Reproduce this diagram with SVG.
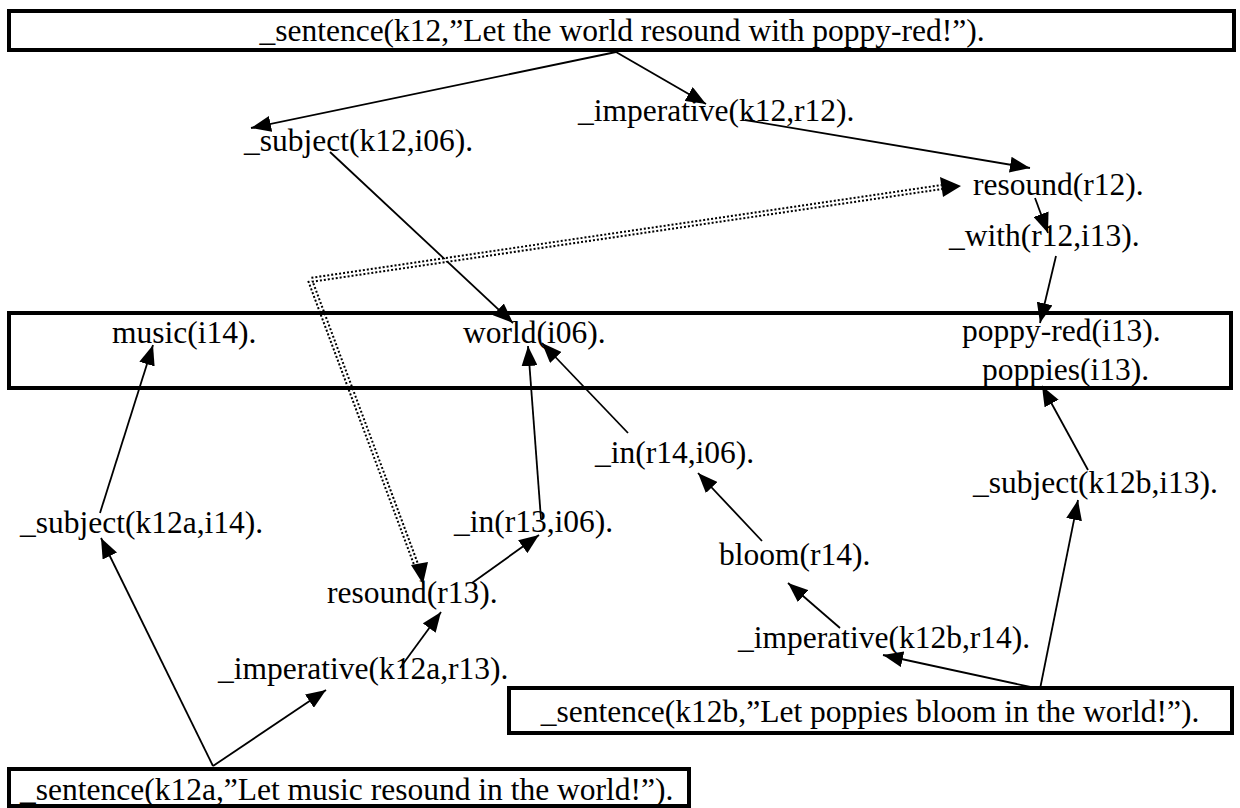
<svg xmlns="http://www.w3.org/2000/svg" width="1240" height="808" viewBox="0 0 1240 808">
  <style>
    text { font-family: "Liberation Serif", "Times New Roman", serif; font-size: 31.5px; fill: #000; }
    .mid { text-anchor: middle; }
    .box { fill: none; stroke: #000; stroke-width: 4; }
    .edge { fill: none; stroke: #000; stroke-width: 1.8; marker-end: url(#arrow); }
    .dbl { fill: none; stroke: #000; stroke-width: 6; stroke-dasharray: 2 2; }
    .dbl-gap { fill: none; stroke: #fff; stroke-width: 2; }
  </style>
  <defs>
    <marker id="arrow" markerUnits="userSpaceOnUse" markerWidth="20" markerHeight="16" refX="20" refY="8" orient="auto">
      <path d="M0,0 L20,8 L0,16 z" fill="#000"/>
    </marker>
  </defs>
  <rect width="1240" height="808" fill="#fff"/>

  <!-- connectors -->
  <g id="connectors">
    <path class="edge" d="M616,52 L706,104"/>
    <path class="edge" d="M616,52 L251,128"/>
    <path class="edge" d="M745,120 L1030,168"/>
    <path class="edge" d="M1035,198 L1048,233"/>
    <path class="edge" d="M1056,256 L1040,323"/>
    <path class="edge" d="M330,152 L513,323"/>
    <path class="edge" d="M541,519 L528,346"/>
    <path class="edge" d="M628,433 L542,343"/>
    <path class="edge" d="M100,513 L153,345"/>
    <path class="edge" d="M762,541 L698,473"/>
    <path class="edge" d="M840,628 L788,583"/>
    <path class="edge" d="M1040,689 L883,655"/>
    <path class="edge" d="M1040,689 L1078,500"/>
    <path class="edge" d="M1088,470 L1042,386"/>
    <path class="edge" d="M213,766 L101,538"/>
    <path class="edge" d="M213,766 L326,690"/>
    <path class="edge" d="M400,668 L441,612"/>
    <path class="edge" d="M472,583 L539,535"/>
    <!-- dotted double link between the two resound nodes -->
    <g id="resound-link">
      <path class="dbl" d="M417,567 L310,280 L942,187"/>
      <path class="dbl-gap" d="M417,567 L310,280 L942,187"/>
      <path d="M411,565 L428,562 L423,584 z" fill="#000"/>
      <path d="M940,177 L961,186 L943,197 z" fill="#000"/>
    </g>
  </g>

  <g id="n-sentence-k12">
    <rect class="box" x="9" y="11" width="1225" height="39"/>
    <text class="mid" x="622" y="41">_sentence(k12,”Let the world resound with poppy-red!”).</text>
  </g>
  <g id="n-imperative-k12"><text x="578" y="121">_imperative(k12,r12).</text></g>
  <g id="n-subject-k12"><text x="244" y="151">_subject(k12,i06).</text></g>
  <g id="n-resound-r12"><text x="973" y="195">resound(r12).</text></g>
  <g id="n-with-r12"><text x="949" y="246">_with(r12,i13).</text></g>

  <g id="n-entities">
    <rect class="box" x="9" y="313" width="1222" height="75"/>
    <text x="112" y="343">music(i14).</text>
    <text x="463" y="343">world(i06).</text>
    <text x="962" y="341">poppy-red(i13).</text>
    <text x="982" y="380">poppies(i13).</text>
  </g>

  <g id="n-in-r14"><text x="595" y="463">_in(r14,i06).</text></g>
  <g id="n-subject-k12b"><text x="973" y="493">_subject(k12b,i13).</text></g>
  <g id="n-subject-k12a"><text x="20" y="533">_subject(k12a,i14).</text></g>
  <g id="n-in-r13"><text x="454" y="532">_in(r13,i06).</text></g>
  <g id="n-bloom-r14"><text x="719" y="565">bloom(r14).</text></g>
  <g id="n-resound-r13"><text x="327" y="603">resound(r13).</text></g>
  <g id="n-imperative-k12b"><text x="738" y="648">_imperative(k12b,r14).</text></g>
  <g id="n-imperative-k12a"><text x="218" y="679">_imperative(k12a,r13).</text></g>

  <g id="n-sentence-k12b">
    <rect class="box" x="509" y="688" width="723" height="45"/>
    <text class="mid" x="870" y="722">_sentence(k12b,”Let poppies bloom in the world!”).</text>
  </g>
  <g id="n-sentence-k12a">
    <rect class="box" x="9" y="769" width="680" height="37"/>
    <text x="20" y="800">_sentence(k12a,”Let music resound in the world!”).</text>
  </g>
</svg>
